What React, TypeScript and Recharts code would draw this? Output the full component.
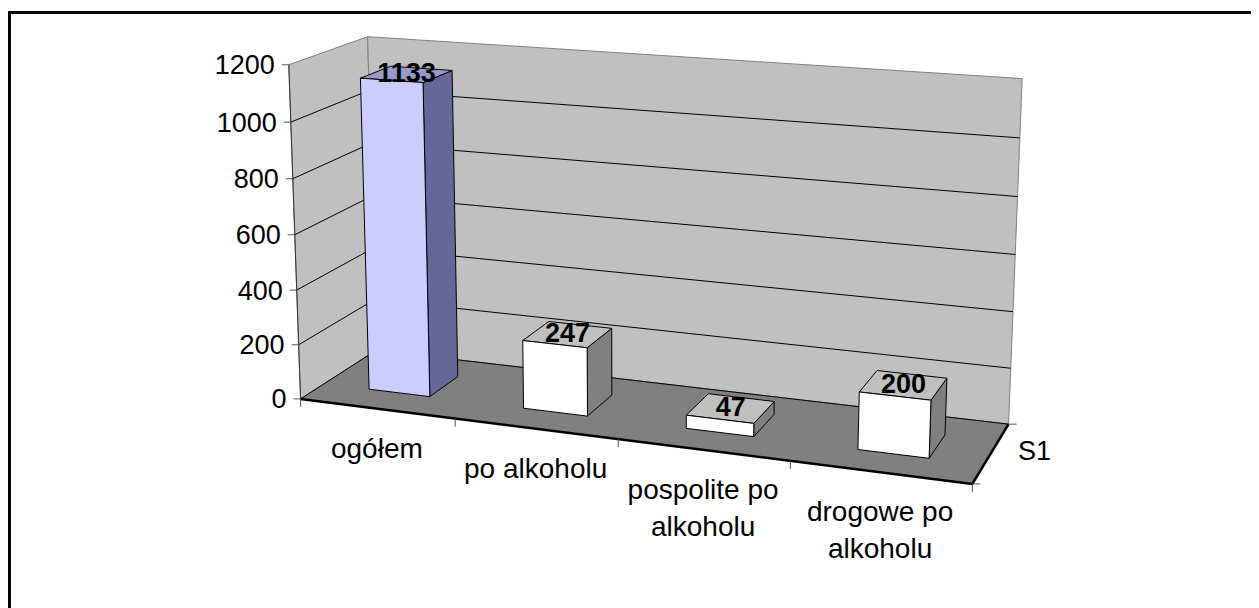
import React from "react";
import { BarChart, Bar, XAxis, YAxis, LabelList, Customized } from "recharts";

// ---------- data ----------
const CATEGORIES = ["ogółem", "po alkoholu", "pospolite po alkoholu", "drogowe po alkoholu"];
const VALUES = [1133, 247, 47, 200];
const Y_TICKS = [0, 200, 400, 600, 800, 1000, 1200];
const Y_MAX = 1200;
const SERIES_NAME = "S1";

// ---------- style ----------
const BAR_FRONT = ["#CCCCFF", "#FFFFFF", "#FFFFFF", "#FFFFFF"];
const BAR_TOP = ["#9999CC", "#C0C0C0", "#C0C0C0", "#C0C0C0"];
const BAR_SIDE = ["#666699", "#808080", "#808080", "#808080"];
const FONT = "'Liberation Sans', Arial, sans-serif";

const W = 1251;
const H = 600;
const Y_AXIS_W = 60;
const X_AXIS_H = 30;
const PL = 300;
const PR = 300;
const PT = 100;
const PBM = 200;
const PW = W - PL - PR;
const PB = H - PBM;
const PH = PB - PT;
const DEPTH0 = 0.3;
const DEPTH1 = 0.7;

const data = CATEGORIES.map((name, i) => ({ name, value: VALUES[i] }));

// ---------- 3D projection (perspective fitted to frame corners) ----------
// (u along categories, v along value axis, w depth) -> page pixel
const FRAME_REF: number[][] = [
  [0, 1, 0, 289, 64],
  [0, 4 / 6, 0, 293, 178],
  [0, 2 / 6, 0, 297, 290],
  [0, 0, 0, 301, 399],
  [0.25, 0, 0, 455, 418],
  [0.5, 0, 0, 618, 440],
  [0.75, 0, 0, 790, 463],
  [1, 0, 0, 972, 483],
  [1, 1, 1, 1022, 79],
  [1, 4 / 6, 1, 1018, 197],
  [1, 2 / 6, 1, 1013, 311],
  [1, 0, 1, 1009, 423],
  [0, 1, 1, 368, 37],
  [0, 5 / 6, 1, 368, 91],
];

function solve(A: number[][], b: number[]): number[] {
  const n = b.length;
  const M = A.map((r, i) => [...r, b[i]]);
  for (let c = 0; c < n; c++) {
    let p = c;
    for (let r = c + 1; r < n; r++) if (Math.abs(M[r][c]) > Math.abs(M[p][c])) p = r;
    const t = M[c];
    M[c] = M[p];
    M[p] = t;
    for (let r = 0; r < n; r++) {
      if (r === c) continue;
      const f = M[r][c] / M[c][c];
      for (let k = c; k <= n; k++) M[r][k] -= f * M[c][k];
    }
  }
  return M.map((r, i) => r[n] / r[i]);
}

function fitProjection(ref: number[][]): number[] {
  const S = 1000;
  const rows: number[][] = [];
  const rhs: number[] = [];
  ref.forEach(([X, Y, Z, px, py]) => {
    const x = (px - 8) / S;
    const y = (py - 8) / S;
    rows.push([X, Y, Z, 1, 0, 0, 0, 0, -x * X, -x * Y, -x * Z]);
    rhs.push(x);
    rows.push([0, 0, 0, 0, X, Y, Z, 1, -y * X, -y * Y, -y * Z]);
    rhs.push(y);
  });
  const n = 11;
  const ATA: number[][] = Array.from({ length: n }, () => new Array(n).fill(0));
  const ATb: number[] = new Array(n).fill(0);
  rows.forEach((r, k) => {
    for (let i = 0; i < n; i++) {
      ATb[i] += r[i] * rhs[k];
      for (let j = 0; j < n; j++) ATA[i][j] += r[i] * r[j];
    }
  });
  return solve(ATA, ATb).map((v, i) => (i < 8 ? v * S : v));
}

const P = fitProjection(FRAME_REF);

function proj(u: number, v: number, w: number): [number, number] {
  const d = P[8] * u + P[9] * v + P[10] * w + 1;
  return [
    (P[0] * u + P[1] * v + P[2] * w + P[3]) / d,
    (P[4] * u + P[5] * v + P[6] * w + P[7]) / d,
  ];
}

const pts = (list: [number, number, number][]) =>
  list.map(([u, v, w]) => proj(u, v, w).map((n) => n.toFixed(2)).join(",")).join(" ");

const line = (a: [number, number, number], b: [number, number, number], stroke: string, sw: number, key?: string) => {
  const p1 = proj(...a);
  const p2 = proj(...b);
  return <line key={key} x1={p1[0]} y1={p1[1]} x2={p2[0]} y2={p2[1]} stroke={stroke} strokeWidth={sw} />;
};

// ---------- backdrop: walls, floor, gridlines, axes ----------
const Backdrop = () => {
  const grid = Y_TICKS.filter((t) => t < Y_MAX).map((t) => {
    const v = t / Y_MAX;
    return (
      <polyline
        key={"g" + t}
        points={pts([
          [0, v, 0],
          [0, v, 1],
          [1, v, 1],
        ])}
        fill="none"
        stroke="#000"
        strokeWidth={1}
      />
    );
  });
  const n = CATEGORIES.length;
  const catTicks = Array.from({ length: n + 1 }, (_, i) => {
    const p = proj(i / n, 0, 0);
    return <line key={"ct" + i} x1={p[0]} y1={p[1]} x2={p[0]} y2={p[1] + 8} stroke="#555" strokeWidth={1} />;
  });
  const d0 = proj(1, 0, 0);
  const d1 = proj(1, 0, 1);
  const dm = proj(1, 0, 0.5);
  return (
    <g>
      <rect x={1.5} y={4.5} width={1248} height={720} fill="#fff" stroke="#000" strokeWidth={3} />
      <polygon
        points={pts([
          [0, 0, 0],
          [0, 1, 0],
          [0, 1, 1],
          [0, 0, 1],
        ])}
        fill="#C0C0C0"
        stroke="#808080"
        strokeWidth={1}
      />
      <polygon
        points={pts([
          [0, 0, 1],
          [0, 1, 1],
          [1, 1, 1],
          [1, 0, 1],
        ])}
        fill="#C0C0C0"
        stroke="#808080"
        strokeWidth={1}
      />
      <polygon
        points={pts([
          [0, 0, 0],
          [1, 0, 0],
          [1, 0, 1],
          [0, 0, 1],
        ])}
        fill="#808080"
        stroke="#808080"
        strokeWidth={1}
      />
      {grid}
      {line([0, 0, 0], [0, 1, 0], "#333", 1, "yaxis")}
      {line([0, 0, 0], [1, 0, 0], "#000", 2.5, "xaxis")}
      {line([1, 0, 0], [1, 0, 1], "#000", 2.5, "zaxis")}
      {catTicks}
      <line x1={d0[0]} y1={d0[1]} x2={d0[0] + 8} y2={d0[1]} stroke="#555" strokeWidth={1} />
      <line x1={d1[0]} y1={d1[1]} x2={d1[0] + 8} y2={d1[1]} stroke="#555" strokeWidth={1} />
      <text x={dm[0] + 27} y={dm[1] + 7} fontFamily={FONT} fontSize={27} fill="#000">
        {SERIES_NAME}
      </text>
    </g>
  );
};

// ---------- bars ----------
const Box3D = (props: any) => {
  const { x, y, width, index } = props;
  const u0 = (x - PL) / PW;
  const u1 = (x + width - PL) / PW;
  const v = (PB - y) / PH;
  const w0 = DEPTH0;
  const w1 = DEPTH1;
  return (
    <g stroke="#000" strokeWidth={1} strokeLinejoin="round">
      <polygon
        points={pts([
          [u1, 0, w0],
          [u1, 0, w1],
          [u1, v, w1],
          [u1, v, w0],
        ])}
        fill={BAR_SIDE[index]}
      />
      <polygon
        points={pts([
          [u0, v, w0],
          [u1, v, w0],
          [u1, v, w1],
          [u0, v, w1],
        ])}
        fill={BAR_TOP[index]}
      />
      <polygon
        points={pts([
          [u0, 0, w0],
          [u1, 0, w0],
          [u1, v, w0],
          [u0, v, w0],
        ])}
        fill={BAR_FRONT[index]}
      />
    </g>
  );
};

const TopLabel = (props: any) => {
  const vb = props.viewBox || props;
  const x = props.x ?? vb.x;
  const y = props.y ?? vb.y;
  const width = props.width ?? vb.width;
  const u0 = (x - PL) / PW;
  const u1 = (x + width - PL) / PW;
  const v = (PB - y) / PH;
  const c = [
    proj(u0, v, DEPTH0),
    proj(u1, v, DEPTH0),
    proj(u1, v, DEPTH1),
    proj(u0, v, DEPTH1),
  ];
  const cx = c.reduce((s, p) => s + p[0], 0) / 4;
  const cy = c.reduce((s, p) => s + p[1], 0) / 4;
  return (
    <text x={cx} y={cy + 7.7} textAnchor="middle" fontFamily={FONT} fontWeight="bold" fontSize={27} fill="#000">
      {props.value}
    </text>
  );
};

// ---------- axis ticks ----------
const wrap = (s: string, maxChars: number) => {
  const words = s.split(" ");
  const lines: string[] = [];
  let cur = "";
  words.forEach((wd) => {
    const t = cur ? cur + " " + wd : wd;
    if (t.length > maxChars && cur) {
      lines.push(cur);
      cur = wd;
    } else cur = t;
  });
  if (cur) lines.push(cur);
  return lines;
};

const CatTick = (props: any) => {
  const { x, payload } = props;
  const u = (x - PL) / PW;
  const [px, py] = proj(u, 0, 0);
  const lines = wrap(String(payload.value), 13);
  return (
    <text textAnchor="middle" fontFamily={FONT} fontSize={28} fill="#000">
      {lines.map((l, i) => (
        <tspan key={i} x={px} y={py + 49 + i * 37}>
          {l}
        </tspan>
      ))}
    </text>
  );
};

const ValTick = (props: any) => {
  const { y, payload } = props;
  const v = (PB - y) / PH;
  const [px, py] = proj(0, v, 0);
  return (
    <g>
      <line x1={px - 7} y1={py} x2={px} y2={py} stroke="#555" strokeWidth={1} />
      <text x={px - 14} y={py + 9.5} textAnchor="end" fontFamily={FONT} fontSize={27} fill="#000">
        {payload.value}
      </text>
    </g>
  );
};

export default function App() {
  return (
    <div style={{ width: W, height: H }}>
      <BarChart
        width={W}
        height={H}
        data={data}
        margin={{ top: PT, right: PR, bottom: PBM - X_AXIS_H, left: PL - Y_AXIS_W }}
        barCategoryGap="30%"
      >
        <Customized component={Backdrop} />
        <XAxis
          dataKey="name"
          height={X_AXIS_H}
          axisLine={false}
          tickLine={false}
          interval={0}
          tick={(p: any) => <CatTick {...p} />}
        />
        <YAxis
          domain={[0, Y_MAX]}
          ticks={Y_TICKS}
          width={Y_AXIS_W}
          axisLine={false}
          tickLine={false}
          interval={0}
          tick={(p: any) => <ValTick {...p} />}
        />
        <Bar dataKey="value" isAnimationActive={false} shape={Box3D}>
          <LabelList dataKey="value" content={TopLabel} />
        </Bar>
      </BarChart>
    </div>
  );
}
